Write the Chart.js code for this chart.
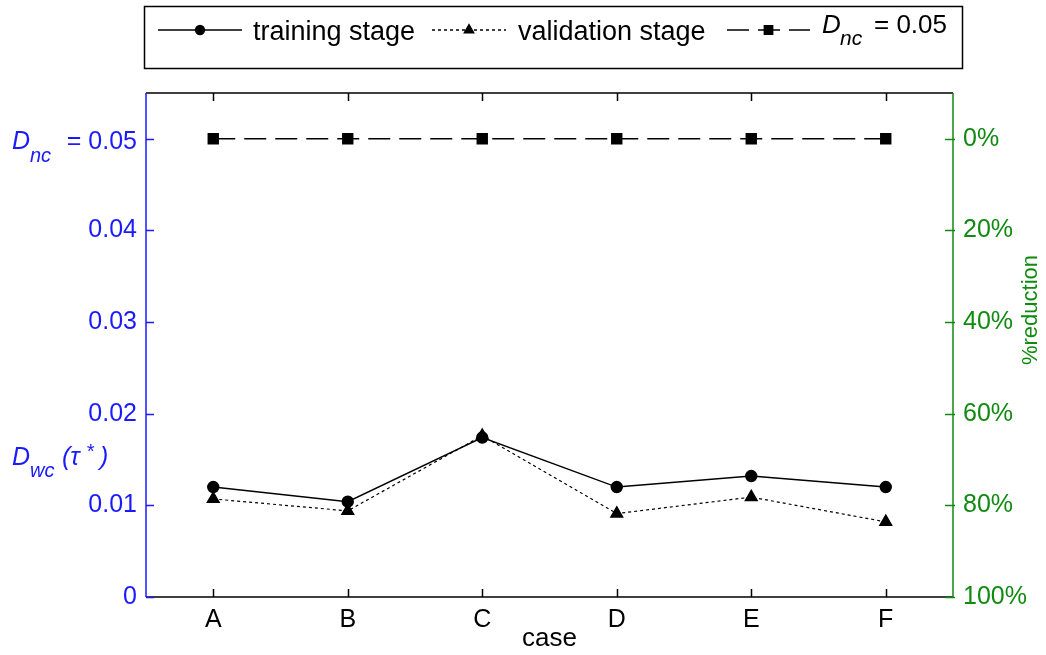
<!DOCTYPE html>
<html>
<head>
<meta charset="utf-8">
<title>D_wc per case</title>
<script src="https://cdn.jsdelivr.net/npm/chart.js@4/dist/chart.umd.min.js"></script>
<style>
  html, body { margin: 0; padding: 0; background: #fff; }
  #graph { display: block; }
</style>
</head>
<body>
<canvas id="graph" width="1046" height="655"></canvas>
<script>
// ------------------------------------------------------------
// Data
// ------------------------------------------------------------
var cases = ["A", "B", "C", "D", "E", "F"];
var trainingStage = [0.0120, 0.0104, 0.0174, 0.0120, 0.0132, 0.0120];
var validationStage = [0.0107, 0.0094, 0.0176, 0.0091, 0.0109, 0.0082];
var dncLevel = [0.05, 0.05, 0.05, 0.05, 0.05, 0.05];

var leftTicks = [0, 0.01, 0.02, 0.03, 0.04, 0.05];
var rightTicks = [0, 20, 40, 60, 80, 100];

var BLUE = "#1a1aff";
var GREEN = "#108a10";
var FONT = "'Liberation Sans', Arial, sans-serif";

// ------------------------------------------------------------
// Frame, inward ticks, legend box and the TeX-like labels
// ------------------------------------------------------------
var framePlugin = {
    id: "frame",
    afterDraw: function (chart) {
        var ctx = chart.ctx;
        var a = chart.chartArea;
        var x = chart.scales.x, y = chart.scales.y, y2 = chart.scales.y2;
        var tick = 8;

        ctx.save();
        ctx.lineWidth = 1.5;

        // top / bottom
        ctx.strokeStyle = "#000";
        ctx.beginPath();
        ctx.moveTo(a.left, a.top); ctx.lineTo(a.right, a.top);
        ctx.moveTo(a.left, a.bottom); ctx.lineTo(a.right, a.bottom);
        cases.forEach(function (c, i) {
            var px = Math.round(x.getPixelForValue(i)) + 0.5;
            ctx.moveTo(px, a.bottom); ctx.lineTo(px, a.bottom - tick);
            ctx.moveTo(px, a.top); ctx.lineTo(px, a.top + tick);
        });
        ctx.stroke();

        // left axis (blue)
        ctx.strokeStyle = BLUE;
        ctx.beginPath();
        ctx.moveTo(a.left, a.top); ctx.lineTo(a.left, a.bottom);
        leftTicks.forEach(function (v) {
            var py = Math.round(y.getPixelForValue(v)) + 0.5;
            ctx.moveTo(a.left, py); ctx.lineTo(a.left + tick, py);
        });
        ctx.stroke();

        // right axis (green)
        ctx.strokeStyle = GREEN;
        ctx.beginPath();
        ctx.moveTo(a.right, a.top); ctx.lineTo(a.right, a.bottom);
        rightTicks.forEach(function (v) {
            var py = Math.round(y2.getPixelForValue(v)) + 0.5;
            ctx.moveTo(a.right - tick, py); ctx.lineTo(a.right + 2, py);
        });
        ctx.stroke();

        // D_nc = 0.05 on the left axis
        var y05 = y.getPixelForValue(0.05);
        ctx.fillStyle = BLUE;
        ctx.textBaseline = "alphabetic";
        ctx.textAlign = "right";
        ctx.font = "25px " + FONT;
        ctx.fillText("= 0.05", 137, y05 + 10);
        ctx.textAlign = "left";
        ctx.font = "italic 25px " + FONT;
        ctx.fillText("D", 12, y05 + 10);
        ctx.font = "italic 20px " + FONT;
        ctx.fillText("nc", 30, y05 + 23);

        // D_wc (tau*) label
        ctx.font = "italic 25px " + FONT;
        ctx.fillText("D", 12, 465);
        ctx.font = "italic 20px " + FONT;
        ctx.fillText("wc", 30, 477);
        ctx.font = "italic 25px " + FONT;
        ctx.fillText("(\u03C4", 62, 465);
        ctx.font = "italic 20px " + FONT;
        ctx.fillText("*", 86, 458);
        ctx.font = "italic 25px " + FONT;
        ctx.fillText(")", 100, 465);

        // %reduction
        ctx.save();
        ctx.fillStyle = GREEN;
        ctx.translate(1031, 310);
        ctx.rotate(-Math.PI / 2);
        ctx.textAlign = "center";
        ctx.textBaseline = "middle";
        ctx.font = "22px " + FONT;
        ctx.fillText("%reduction", 0, 0);
        ctx.restore();

        // case
        ctx.fillStyle = "#000";
        ctx.textAlign = "center";
        ctx.textBaseline = "alphabetic";
        ctx.font = "26px " + FONT;
        ctx.fillText("case", (a.left + a.right) / 2, 646);

        dessinerLegende(ctx);
        ctx.restore();
    }
};

// Legend drawn by hand (it needs a subscript)
function dessinerLegende(ctx) {
    ctx.save();
    ctx.strokeStyle = "#000";
    ctx.lineWidth = 1.5;
    ctx.strokeRect(144.5, 6.5, 818, 62);

    var ly = 30;
    var items = [
        { x0: 158, x1: 242, dash: [], style: "circle", r: 4.5 },
        { x0: 432, x1: 506, dash: [3, 3], style: "triangle", r: 5.5 },
        { x0: 727, x1: 810, dash: [22, 9], style: "rect", r: 6 }
    ];
    items.forEach(function (it) {
        ctx.setLineDash(it.dash);
        ctx.lineWidth = 1.3;
        ctx.beginPath();
        ctx.moveTo(it.x0, ly); ctx.lineTo(it.x1, ly);
        ctx.stroke();
        ctx.setLineDash([]);
        ctx.fillStyle = "#000";
        Chart.helpers.drawPoint(ctx, { pointStyle: it.style, radius: it.r, rotation: 0, borderWidth: 1 },
            (it.x0 + it.x1) / 2, ly);
    });

    ctx.fillStyle = "#000";
    ctx.textAlign = "left";
    ctx.textBaseline = "alphabetic";
    ctx.font = "27px " + FONT;
    ctx.fillText("training stage", 253, 40);
    ctx.fillText("validation stage", 518, 40);
    ctx.font = "italic 26px " + FONT;
    ctx.fillText("D", 822, 33);
    ctx.font = "italic 21px " + FONT;
    ctx.fillText("nc", 840, 45);
    ctx.font = "26px " + FONT;
    ctx.fillText("= 0.05", 874, 33);
    ctx.restore();
}

// ------------------------------------------------------------
// Chart
// ------------------------------------------------------------
var ctx = document.getElementById("graph").getContext("2d");
new Chart(ctx, {
    type: "line",
    data: {
        labels: cases,
        datasets: [
            {
                label: "training stage",
                data: trainingStage,
                borderColor: "#000",
                backgroundColor: "#000",
                borderWidth: 1.4,
                pointStyle: "circle",
                pointRadius: 5.5,
                pointBackgroundColor: "#000",
                pointBorderColor: "#000",
                tension: 0
            },
            {
                label: "validation stage",
                data: validationStage,
                borderColor: "#000",
                backgroundColor: "#000",
                borderWidth: 1.2,
                borderDash: [3, 3],
                pointStyle: "triangle",
                pointRadius: 7,
                pointBackgroundColor: "#000",
                pointBorderColor: "#000",
                tension: 0
            },
            {
                label: "D_nc = 0.05",
                data: dncLevel,
                borderColor: "#000",
                backgroundColor: "#000",
                borderWidth: 1.5,
                borderDash: [22, 9],
                pointStyle: "rect",
                pointRadius: 7,
                pointBackgroundColor: "#000",
                pointBorderColor: "#000",
                tension: 0
            }
        ]
    },
    options: {
        responsive: false,
        animation: false,
        devicePixelRatio: 1,
        layout: { padding: { top: 93, left: 0, right: 0, bottom: 0 } },
        plugins: {
            legend: { display: false },
            tooltip: { enabled: false }
        },
        scales: {
            x: {
                type: "category",
                offset: true,
                grid: { display: false, drawTicks: false },
                border: { display: false },
                ticks: { color: "#000", font: { family: FONT, size: 25 }, padding: 8, maxRotation: 0 },
                afterFit: function (s) { s.height = 58; }
            },
            y: {
                position: "left",
                min: 0,
                max: 0.055,
                grid: { display: false, drawTicks: false },
                border: { display: false },
                afterBuildTicks: function (s) {
                    s.ticks = leftTicks.map(function (v) { return { value: v }; });
                },
                ticks: {
                    color: BLUE,
                    font: { family: FONT, size: 25 },
                    padding: 9,
                    callback: function (v) {
                        if (v === 0.05) return "";
                        return v === 0 ? "0" : v.toFixed(2);
                    }
                },
                afterFit: function (s) { s.width = 146; }
            },
            y2: {
                position: "right",
                min: -10,
                max: 100,
                reverse: true,
                grid: { display: false, drawTicks: false },
                border: { display: false },
                afterBuildTicks: function (s) {
                    s.ticks = rightTicks.map(function (v) { return { value: v }; });
                },
                ticks: {
                    color: GREEN,
                    font: { family: FONT, size: 25 },
                    padding: 10,
                    callback: function (v) { return v + "%"; }
                },
                afterFit: function (s) { s.width = 93; }
            }
        }
    },
    plugins: [framePlugin]
});
</script>
</body>
</html>
